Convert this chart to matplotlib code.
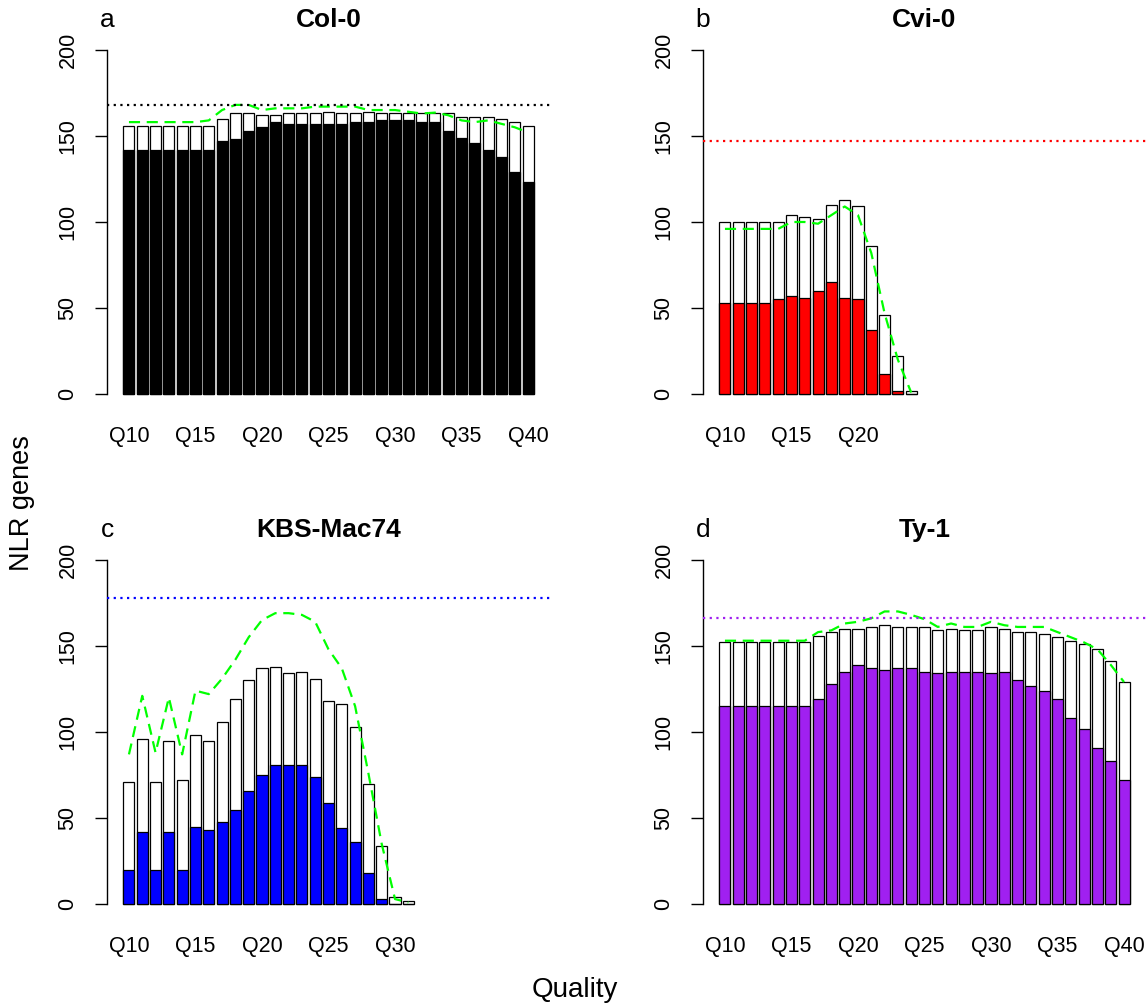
import matplotlib
matplotlib.use("Agg")
import matplotlib.pyplot as plt
import numpy as np

plt.rcParams['font.family'] = ['Liberation Sans', 'DejaVu Sans']

# --- DATA ---
panel_letters = ['a', 'b', 'c', 'd']
accessions = ['Col-0', 'Cvi-0', 'KBS-Mac74', 'Ty-1']
bar_colors = ['black', 'red', 'blue', '#A020F0']
reference_counts = [168, 147, 178, 166]

col0_total = [156, 156, 156, 156, 156, 156, 156, 160, 163, 163, 162, 162, 163, 163, 163, 164,
              163, 163, 164, 163, 163, 163, 163, 163, 163, 161, 161, 161, 160, 158, 156]
col0_found = [142, 142, 142, 142, 142, 142, 142, 147, 148, 153, 155, 158, 157, 157, 157, 157,
              157, 158, 158, 159, 159, 159, 158, 158, 153, 149, 146, 142, 138, 129, 123]
col0_line = [158, 158, 158, 158, 158, 158, 159, 165, 168, 168, 165, 166, 166, 166, 167, 167,
             167, 167, 165, 165, 165, 164, 163, 163.5, 162, 159, 158, 159, 157, 155, 152]

cvi0_total = [100, 100, 100, 100, 100, 104, 103, 102, 110, 113, 109, 86, 46, 22, 2]
cvi0_found = [53, 53, 53, 53, 55, 57, 56, 60, 65, 56, 55, 37, 12, 2, 0]
cvi0_line = [96, 96, 96, 96, 96, 100, 100, 99, 104, 109, 104, 82, 47, 20, 1]

kbs_total = [71, 96, 71, 95, 72, 98, 95, 106, 119, 130, 137, 138, 134, 135, 131, 118,
             116, 103, 70, 34, 4, 2]
kbs_found = [20, 42, 20, 42, 20, 45, 43, 48, 55, 66, 75, 81, 81, 81, 74, 59,
             44, 36, 18, 3, 0, 0]
kbs_line = [87, 121, 88, 120, 87, 124, 122, 131, 142, 155, 165, 169, 169, 168, 164, 148,
            137, 115, 76, 35, 3, 1]

ty1_total = [152, 152, 152, 152, 152, 152, 152, 156, 158, 160, 160, 161, 162, 161, 161, 161,
             159, 160, 159, 159, 161, 160, 158, 158, 157, 155, 153, 151, 148, 141, 129]
ty1_found = [115, 115, 115, 115, 115, 115, 115, 119, 128, 135, 139, 137, 136, 137, 137, 135,
             134, 135, 135, 135, 134, 135, 130, 127, 124, 119, 108, 102, 91, 83, 72]
ty1_line = [153, 153, 153, 153, 153, 153, 153, 158, 159, 163, 164, 166, 170, 170, 168, 165.5,
            161, 163, 161, 161, 164, 162, 161, 161, 161, 158, 155, 152, 148, 139, 129]

totals = [col0_total, cvi0_total, kbs_total, ty1_total]
founds = [col0_found, cvi0_found, kbs_found, ty1_found]
lines = [col0_line, cvi0_line, kbs_line, ty1_line]

# --- LAYOUT (pixel boxes of the plot regions) ---
W, H = 1147, 1007
boxes = [(107, 36, 550, 408), (703, 36, 1146, 408),
         (107, 546, 550, 918), (703, 546, 1146, 918)]

fig = plt.figure(figsize=(W / 100, H / 100), dpi=100)

for k in range(4):
    x0, y0, x1, y1 = boxes[k]
    ax = fig.add_axes([x0 / W, 1 - y1 / H, (x1 - x0) / W, (y1 - y0) / H])
    total = np.array(totals[k])
    found = np.array(founds[k])
    n = len(total)
    xpos = 0.7 + 1.2 * np.arange(n)

    ax.bar(xpos, total, width=1.0, color='white', edgecolor='black', linewidth=0.9, zorder=2)
    ax.bar(xpos, found, width=1.0, color=bar_colors[k], edgecolor='black', linewidth=0.9, zorder=3)
    ax.plot(xpos, lines[k], color='#00FF00', linestyle=(0, (5, 3)), linewidth=1.6, zorder=4)
    ax.axhline(reference_counts[k], color=bar_colors[k], linestyle=(0, (1, 2)),
               linewidth=1.6, zorder=4)

    ax.set_xlim(-1.28, 38.68)
    ax.set_ylim(-8, 208)
    for s in ['top', 'right', 'bottom']:
        ax.spines[s].set_visible(False)
    ax.spines['left'].set_bounds(0, 200)
    ax.spines['left'].set_linewidth(1.0)
    ax.set_yticks([0, 50, 100, 150, 200])
    ax.set_yticklabels(['0', '50', '100', '150', '200'], rotation=90, va='center', fontsize=15.5)
    ax.tick_params(axis='y', length=8.6, width=1.0, pad=12)

    idx = np.arange(0, n, 5)
    ax.set_xticks(xpos[idx])
    ax.set_xticklabels([f"Q{10 + i}" for i in idx], fontsize=15.5)
    ax.tick_params(axis='x', length=0, pad=13)

    ax.set_title(accessions[k], fontsize=19, fontweight='bold', pad=6.5)
    ax.text(0.0, 1 + 9 / 372, panel_letters[k], transform=ax.transAxes, fontsize=19,
            ha='center', va='baseline')

fig.text(22 / W, 1 - 503 / H, 'NLR genes', rotation=90, fontsize=19.5, ha='center', va='center')
fig.text(575 / W, 1 - 990 / H, 'Quality', fontsize=20, ha='center', va='center')

fig.savefig('out.png', dpi=100)
